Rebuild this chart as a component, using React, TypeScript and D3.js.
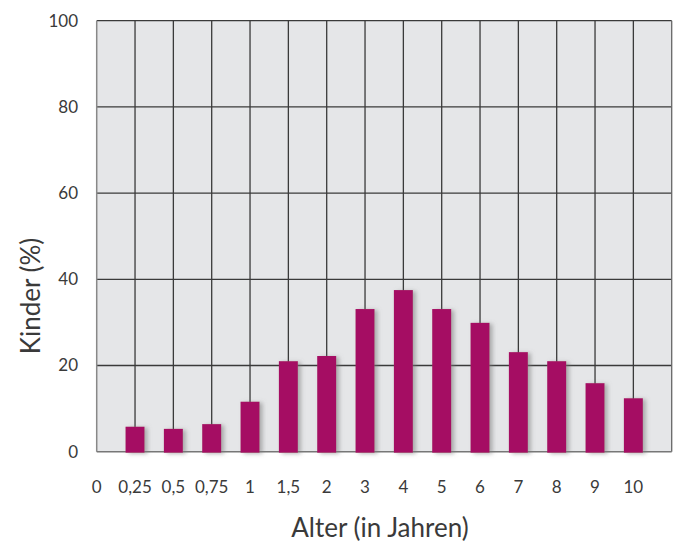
import { useEffect, useRef } from "react";
import * as d3 from "d3";

const categories = ["0", "0,25", "0,5", "0,75", "1", "1,5", "2", "3", "4", "5", "6", "7", "8", "9", "10", ""];
const barCats = ["0,25", "0,5", "0,75", "1", "1,5", "2", "3", "4", "5", "6", "7", "8", "9", "10"];
const values = [5.8, 5.3, 6.4, 11.6, 21.0, 22.2, 33.1, 37.5, 33.1, 29.9, 23.1, 21.0, 15.9, 12.4];
const yTicks = [0, 20, 40, 60, 80, 100];

const App = () => {
  const ref = useRef(null);

  useEffect(() => {
    document.body.style.margin = "0";
    if (!ref.current) return;
    const svg = d3.select(ref.current);
    svg.selectAll("*").remove();

    const width = 677;
    const height = 542;
    const margin = { top: 20.7, right: 5.3, bottom: 90.3, left: 96.7 };
    const font = "Lato, 'Open Sans', sans-serif";
    const textColor = "#3a3a3a";

    const x = d3
      .scalePoint()
      .domain(categories)
      .range([margin.left, width - margin.right]);
    const y = d3
      .scaleLinear()
      .domain([0, 100])
      .range([height - margin.bottom, margin.top]);

    const defs = svg.append("defs");
    const f = defs
      .append("filter")
      .attr("id", "shadow")
      .attr("x", "-20%")
      .attr("y", "-20%")
      .attr("width", "160%")
      .attr("height", "140%");
    f.append("feDropShadow")
      .attr("dx", 3)
      .attr("dy", 1)
      .attr("stdDeviation", 2)
      .attr("flood-color", "#777")
      .attr("flood-opacity", 0.55);

    // plot background
    svg
      .append("rect")
      .attr("x", margin.left)
      .attr("y", margin.top)
      .attr("width", width - margin.left - margin.right)
      .attr("height", y(0) - margin.top)
      .attr("fill", "#e5e6e8");

    // horizontal grid
    svg
      .append("g")
      .selectAll("line")
      .data(yTicks.filter((d) => d > 0))
      .join("line")
      .attr("x1", margin.left)
      .attr("x2", width - margin.right)
      .attr("y1", (d) => y(d))
      .attr("y2", (d) => y(d))
      .attr("stroke", "#3a3a3a")
      .attr("stroke-width", 1.3);

    // vertical grid
    svg
      .append("g")
      .selectAll("line")
      .data(categories.slice(1))
      .join("line")
      .attr("x1", (d) => x(d)!)
      .attr("x2", (d) => x(d)!)
      .attr("y1", margin.top)
      .attr("y2", y(0))
      .attr("stroke", (d, i) => (i === categories.length - 2 ? "#666" : "#3a3a3a"))
      .attr("stroke-width", 1.3);

    // left and bottom border
    svg
      .append("line")
      .attr("x1", margin.left)
      .attr("x2", margin.left)
      .attr("y1", margin.top)
      .attr("y2", y(0))
      .attr("stroke", "#888")
      .attr("stroke-width", 1.5);
    svg
      .append("line")
      .attr("x1", margin.left)
      .attr("x2", width - margin.right)
      .attr("y1", y(0))
      .attr("y2", y(0))
      .attr("stroke", "#777")
      .attr("stroke-width", 1.5);

    // bars
    const bw = 19;
    svg
      .append("g")
      .attr("filter", "url(#shadow)")
      .selectAll("rect")
      .data(barCats)
      .join("rect")
      .attr("x", (d) => x(d)! - bw / 2)
      .attr("y", (d, i) => y(values[i]))
      .attr("width", bw)
      .attr("height", (d, i) => y(0) - y(values[i]) + 1)
      .attr("fill", "#a50f63");

    // y tick labels
    svg
      .append("g")
      .selectAll("text")
      .data(yTicks)
      .join("text")
      .attr("x", 78)
      .attr("y", (d) => y(d))
      .attr("dy", "0.35em")
      .attr("text-anchor", "end")
      .attr("font-family", font)
      .attr("font-size", 17)
      .attr("fill", textColor)
      .text((d) => d);

    // x tick labels
    svg
      .append("g")
      .selectAll("text")
      .data(categories.filter((d) => d !== ""))
      .join("text")
      .attr("x", (d) => x(d)!)
      .attr("y", 493)
      .attr("text-anchor", "middle")
      .attr("font-family", font)
      .attr("font-size", 17)
      .attr("fill", textColor)
      .text((d) => d);

    // axis titles
    svg
      .append("text")
      .attr("transform", `translate(40,296) rotate(-90)`)
      .attr("text-anchor", "middle")
      .attr("font-family", font)
      .attr("font-size", 26)
      .attr("fill", textColor)
      .text("Kinder (%)");
    svg
      .append("text")
      .attr("x", 380)
      .attr("y", 537)
      .attr("text-anchor", "middle")
      .attr("font-family", font)
      .attr("font-size", 26)
      .attr("fill", textColor)
      .text("Alter (in Jahren)");

    svg.attr("viewBox", [0, 0, width, height]);
  }, []);

  return <svg ref={ref} width={677} height={542} style={{ display: "block" }}></svg>;
};

export default App;
